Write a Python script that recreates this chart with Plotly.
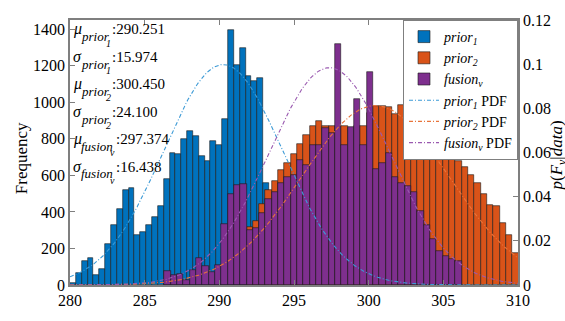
import numpy as np
import plotly.graph_objects as go

# ---- data ----
# prior_1 histogram (own bins)
prior1_start = 280.0
prior1_width = 0.392
prior1_counts = [10, 67, 130, 150, 53, 85, 222, 330, 415, 520,
                 530, 275, 288, 330, 375, 435, 580, 725, 720, 800,
                 845, 816, 704, 679, 790, 764, 910, 1395, 1207, 1299,
                 1146, 1115, 1136, 560]

# prior_2 histogram
prior2_start = 286.307
prior2_width = 0.424
prior2_counts = [0, 0, 0, 0, 0, 0, 0, 0, 0, 0,
                 0, 0, 0, 320, 350, 445, 520, 570, 627, 670,
                 720, 770, 820, 870, 900, 870, 870, 870, 870, 860,
                 870, 870, 940, 978, 978, 975, 935, 987, 987, 884,
                 830, 790, 750, 710, 700, 690, 680, 645, 600, 560,
                 500, 440, 430, 340, 276, 175]

# fusion_v histogram
fusion_start = 286.307
fusion_width = 0.424
fusion_counts = [79, 57, 60, 30, 80, 150, 106, 70, 110, 336,
                 500, 550, 555, 302, 310, 396, 473, 510, 559, 590,
                 600, 687, 656, 764, 769, 858, 833, 1321, 764, 867,
                 1016, 764, 1167, 636, 670, 721, 593, 560, 540, 507,
                 405, 330, 250, 185, 160, 140, 130]

# fitted normal parameters shown on the chart (sigma label is the variance)
pdf_mean = [290.251, 300.450, 297.374]
pdf_var = [15.974, 24.100, 16.438]
stat_symbols = ["μ", "σ", "μ", "σ", "μ", "σ"]
stat_sub1 = ["prior", "prior", "prior", "prior", "fusion", "fusion"]
stat_sub2 = ["1", "1", "2", "2", "v", "v"]
stat_values = ["290.251", "15.974", "300.450", "24.100", "297.374", "16.438"]

x_range = [280, 310]
freq_range = [0, 1451]
pdf_range = [0, 0.12]

bar_colors = ["#0072BD", "#D95319", "#7E2F8E"]
pdf_colors = ["#3C9AD6", "#E8743B", "#9A5AB0"]

name_html = ["<i>prior</i><sub><i>1</i></sub>",
             "<i>prior</i><sub><i>2</i></sub>",
             "<i>fusion</i><sub><i>v</i></sub>"]

fig = go.Figure()

hist_specs = [(prior1_start, prior1_width, prior1_counts),
              (prior2_start, prior2_width, prior2_counts),
              (fusion_start, fusion_width, fusion_counts)]
for i, (start, width, counts) in enumerate(hist_specs):
    centers = [start + width * (k + 0.5) for k in range(len(counts))]
    fig.add_trace(go.Bar(
        x=centers, y=counts, width=width, name=name_html[i],
        marker=dict(color=bar_colors[i], line=dict(color="#1a1a1a", width=0.6)),
        yaxis="y"))

xs = np.linspace(x_range[0], x_range[1], 301)
for i in range(3):
    pdf = np.exp(-(xs - pdf_mean[i]) ** 2 / (2 * pdf_var[i])) / np.sqrt(2 * np.pi * pdf_var[i])
    fig.add_trace(go.Scatter(
        x=xs, y=pdf, mode="lines", name=name_html[i] + " PDF",
        line=dict(color=pdf_colors[i], width=1.1, dash="4px,2px,1px,2px"),
        yaxis="y2"))

axis_col = "#7f7f7f"
font_fam = "Liberation Serif"

# plot area in pixels (for placing the text labels)
W, H = 565, 321
L, R, T, B = 70, 47, 15, 24
pw, ph = W - L - R, H - T - B


def px_x(x):
    return (x - L) / pw


def px_y(y):
    return (H - B - y) / ph


fig.update_layout(
    width=W, height=H,
    margin=dict(l=L, r=R, t=T, b=B),
    paper_bgcolor="white", plot_bgcolor="white",
    font=dict(family=font_fam, size=16, color="black"),
    barmode="overlay", bargap=0,
    showlegend=True,
    legend=dict(x=1, y=1, xanchor="right", yanchor="top",
                bgcolor="white", bordercolor=axis_col, borderwidth=1,
                font=dict(family=font_fam, size=14, color="black"),
                tracegroupgap=0, itemwidth=30),
    xaxis=dict(range=x_range, dtick=5, tick0=280, ticks="inside", ticklen=5,
               tickcolor=axis_col, showline=True, linecolor=axis_col, linewidth=1.5,
               mirror="ticks", showgrid=False, zeroline=False,
               tickfont=dict(size=16)),
    yaxis=dict(range=freq_range, dtick=200, ticks="inside", ticklen=5,
               tickcolor=axis_col, showline=True, linecolor=axis_col, linewidth=1.5,
               showgrid=False, zeroline=False, tickfont=dict(size=16)),
    yaxis2=dict(range=pdf_range, dtick=0.02, overlaying="y", side="right",
                ticks="inside", ticklen=5, tickcolor=axis_col, showline=True,
                linecolor=axis_col, linewidth=1.5, showgrid=False, zeroline=False,
                tickfont=dict(size=16)),
)


def label(text, x, y, size):
    fig.add_annotation(text=text, xref="paper", yref="paper", x=px_x(x), y=px_y(y),
                       xanchor="left", yanchor="middle", showarrow=False,
                       borderpad=0,
                       font=dict(family=font_fam, size=size, color="black"))


for i in range(6):
    base = 30 + 29.2 * i          # baseline of the main text row
    sub_w = 25 if stat_sub1[i] == "prior" else 29
    label("<i>%s</i>" % stat_symbols[i], 72, base - 5.5, 16)
    label("<i>%s</i>" % stat_sub1[i], 80, base + 2.8, 13)
    label("<i>%s</i>" % stat_sub2[i], 80 + sub_w, base + 9.5, 10)
    label(":%s" % stat_values[i], 80 + sub_w + 6, base - 5, 15)

fig.add_annotation(text="Frequency", xref="paper", yref="paper", x=-0.109, y=0.479,
                   xanchor="center", yanchor="middle", textangle=-90, showarrow=False,
                   font=dict(family=font_fam, size=17, color="black"))
fig.add_annotation(text="<i>p</i>(<i>F</i><sub><i>v</i></sub>|<i>data</i>)",
                   xref="paper", yref="paper", x=1.09, y=0.49,
                   xanchor="center", yanchor="middle", textangle=-90, showarrow=False,
                   font=dict(family=font_fam, size=17, color="black"))

fig.write_html("out.html")
